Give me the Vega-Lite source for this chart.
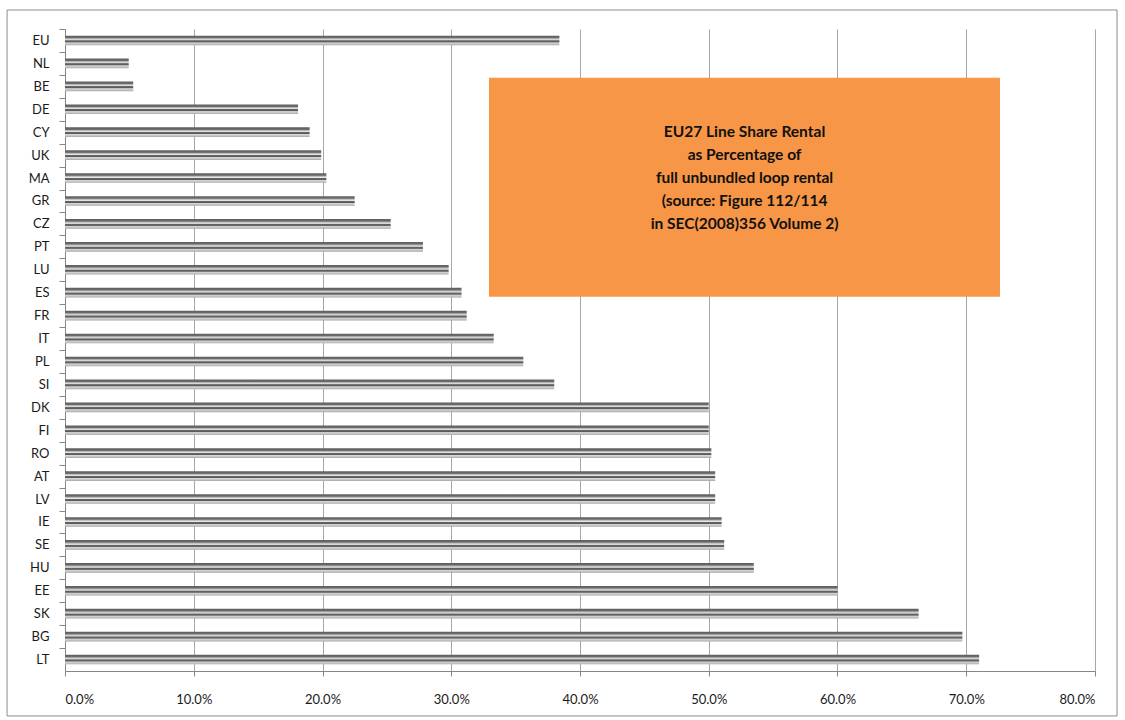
{
  "$schema": "https://vega.github.io/schema/vega-lite/v6.json",
  "width": 1030,
  "height": 642,
  "autosize": {"type": "none"},
  "padding": {"left": 65, "top": 29, "right": 30, "bottom": 49},
  "background": "white",
  "config": {
    "view": {"stroke": null},
    "font": "Lato",
    "axis": {"labelFont": "Lato", "labelFontSize": 13, "labelColor": "#1a1a1a"}
  },
  "resolve": {"scale": {"y": "independent"}},
  "layer": [
    {
      "data": {
        "values": [
          {"country": "EU", "share": 0.384},
          {"country": "NL", "share": 0.0495},
          {"country": "BE", "share": 0.053},
          {"country": "DE", "share": 0.181},
          {"country": "CY", "share": 0.190},
          {"country": "UK", "share": 0.199},
          {"country": "MA", "share": 0.203},
          {"country": "GR", "share": 0.225},
          {"country": "CZ", "share": 0.253},
          {"country": "PT", "share": 0.278},
          {"country": "LU", "share": 0.298},
          {"country": "ES", "share": 0.308},
          {"country": "FR", "share": 0.312},
          {"country": "IT", "share": 0.333},
          {"country": "PL", "share": 0.356},
          {"country": "SI", "share": 0.380},
          {"country": "DK", "share": 0.500},
          {"country": "FI", "share": 0.500},
          {"country": "RO", "share": 0.502},
          {"country": "AT", "share": 0.505},
          {"country": "LV", "share": 0.505},
          {"country": "IE", "share": 0.510},
          {"country": "SE", "share": 0.512},
          {"country": "HU", "share": 0.535},
          {"country": "EE", "share": 0.600},
          {"country": "SK", "share": 0.663},
          {"country": "BG", "share": 0.697},
          {"country": "LT", "share": 0.710}
        ]
      },
      "mark": {
        "type": "bar",
        "fill": {
          "gradient": "linear",
          "x1": 0, "y1": 0, "x2": 0, "y2": 1,
          "stops": [
            {"offset": 0, "color": "#5e5e5e"},
            {"offset": 0.22, "color": "#6c6c6c"},
            {"offset": 0.3, "color": "#b0b0b0"},
            {"offset": 0.45, "color": "#e8e8e8"},
            {"offset": 0.52, "color": "#666666"},
            {"offset": 0.66, "color": "#5a5a5a"},
            {"offset": 0.74, "color": "#d6d6d6"},
            {"offset": 0.9, "color": "#c0c0c0"},
            {"offset": 1, "color": "#a4a4a4"}
          ]
        }
      },
      "encoding": {
        "y": {
          "field": "country",
          "type": "nominal",
          "sort": null,
          "scale": {"paddingInner": 0.58, "paddingOuter": 0.29},
          "axis": {
            "title": null,
            "tickOffset": -11.46,
            "labelOffset": 11.46,
            "tickSize": 6,
            "tickColor": "#868686",
            "domainColor": "#868686",
            "labelPadding": 10,
            "grid": false
          }
        },
        "x": {
          "field": "share",
          "type": "quantitative",
          "scale": {"domain": [0, 0.8], "nice": false},
          "axis": {
            "title": null,
            "format": ".1%",
            "values": [0, 0.1, 0.2, 0.3, 0.4, 0.5, 0.6, 0.7, 0.8],
            "grid": true,
            "gridColor": "#a6a6a6",
            "gridOpacity": 1,
            "tickSize": 5,
            "tickColor": "#868686",
            "domainColor": "#868686",
            "labelPadding": 17
          }
        }
      }
    },
    {
      "data": {
        "values": [
          {"kind": "box", "x0": 0.3293, "x1": 0.7262, "y0": 2.124, "y1": 11.675, "tx": 0.5278, "ty": 4.514,
           "label": "EU27 Line Share Rental\nas Percentage of\nfull unbundled loop rental\n(source: Figure 112/114\nin SEC(2008)356  Volume 2)"}
        ]
      },
      "layer": [
        {
          "mark": {"type": "rect", "fill": "#f79646"},
          "encoding": {
            "x": {"field": "x0", "type": "quantitative"},
            "x2": {"field": "x1"},
            "y": {"field": "y0", "type": "quantitative", "scale": {"domain": [0, 28], "reverse": true, "nice": false, "zero": false}, "axis": null},
            "y2": {"field": "y1"}
          }
        },
        {
          "mark": {"type": "text", "font": "Lato", "fontWeight": "bold", "fontSize": 15.5, "color": "#111111", "lineBreak": "\n", "lineHeight": 23, "align": "center", "baseline": "middle"},
          "encoding": {
            "x": {"field": "tx", "type": "quantitative"},
            "y": {"field": "ty", "type": "quantitative", "scale": {"domain": [0, 28], "reverse": true, "nice": false, "zero": false}, "axis": null},
            "text": {"field": "label"}
          }
        }
      ]
    },
    {
      "data": {
        "values": [
          {"kind": "frame", "x0": -0.045, "x1": 0.8171, "y0": -0.829, "y1": 29.96}
        ]
      },
      "mark": {"type": "rect", "fill": null, "stroke": "#8c8c8c", "strokeWidth": 1},
      "encoding": {
        "x": {"field": "x0", "type": "quantitative"},
        "x2": {"field": "x1"},
        "y": {"field": "y0", "type": "quantitative", "scale": {"domain": [0, 28], "reverse": true, "nice": false, "zero": false}, "axis": null},
        "y2": {"field": "y1"}
      }
    }
  ]
}
